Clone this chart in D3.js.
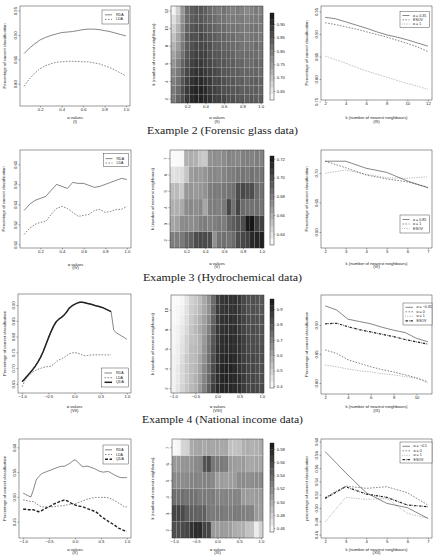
<!DOCTYPE html>
<html><head><meta charset="utf-8">
<script src="https://cdn.jsdelivr.net/npm/d3@7"></script>
<style>body{margin:0;background:#fff}svg{display:block}</style>
</head><body><svg id="c" width="436" height="556"></svg>
<script>
// ---------------- DATA ----------------
const captions = ["Example 2 (Forensic glass data)", "Example 3 (Hydrochemical data)", "Example 4 (National income data)"];
const alphaA = [0.05,0.10,0.15,0.20,0.25,0.30,0.35,0.40,0.45,0.50,0.55,0.60,0.65,0.70,0.75,0.80,0.85,0.90,0.95,1.00];
const alphaB = [-1.00,-0.95,-0.90,-0.85,-0.80,-0.75,-0.70,-0.65,-0.60,-0.55,-0.50,-0.45,-0.40,-0.35,-0.30,-0.25,-0.20,-0.15,-0.10,-0.05,0.00,0.05,0.10,0.15,0.20,0.25,0.30,0.35,0.40,0.45,0.50,0.55,0.60,0.65,0.70,0.75,0.80,0.85,0.90,0.95,1.00];
const alphaC = [-1.0,-0.9,-0.8,-0.7,-0.6,-0.5,-0.4,-0.3,-0.2,-0.1,0.0,0.1,0.2,0.3,0.4,0.5,0.6,0.7,0.8,0.9,1.0];
const kGlass = [2,3,4,5,6,7,8,9,10,11,12];
const kHydro = [2,3,4,5,6,7];
const kIncome = [2,3,4,5,6,7,8,9,10,11];
const kIncome2 = [2,3,4,5,6,7];

// Panel I
const glassRDA = [0.862,0.873,0.882,0.890,0.895,0.899,0.902,0.905,0.906,0.907,0.909,0.911,0.912,0.912,0.911,0.909,0.907,0.904,0.901,0.898];
const glassLDA = [0.795,0.810,0.822,0.831,0.837,0.841,0.844,0.845,0.846,0.846,0.846,0.845,0.845,0.843,0.841,0.837,0.833,0.828,0.822,0.816];
// Panel II (rows k=2..12, cols alphaA)
const glassHeat = [
 [0.80,0.83,0.86,0.89,0.91,0.92,0.92,0.91,0.90,0.88,0.88,0.87,0.86,0.86,0.85,0.85,0.84,0.85,0.84,0.84],
 [0.80,0.82,0.86,0.89,0.91,0.92,0.92,0.91,0.89,0.88,0.87,0.86,0.86,0.85,0.85,0.84,0.84,0.84,0.84,0.83],
 [0.79,0.81,0.85,0.88,0.90,0.91,0.91,0.90,0.89,0.87,0.87,0.86,0.85,0.85,0.84,0.84,0.83,0.84,0.84,0.83],
 [0.78,0.80,0.84,0.87,0.89,0.90,0.90,0.89,0.88,0.87,0.86,0.85,0.85,0.84,0.84,0.83,0.83,0.83,0.83,0.82],
 [0.76,0.79,0.83,0.86,0.88,0.89,0.89,0.88,0.87,0.86,0.85,0.85,0.84,0.84,0.83,0.83,0.82,0.82,0.83,0.82],
 [0.74,0.77,0.81,0.85,0.87,0.88,0.88,0.88,0.86,0.85,0.85,0.84,0.84,0.83,0.82,0.82,0.82,0.82,0.82,0.81],
 [0.72,0.75,0.80,0.84,0.86,0.87,0.87,0.87,0.86,0.84,0.84,0.83,0.83,0.82,0.82,0.81,0.81,0.81,0.82,0.81],
 [0.70,0.74,0.79,0.84,0.86,0.86,0.87,0.86,0.85,0.84,0.83,0.83,0.82,0.82,0.81,0.81,0.80,0.81,0.81,0.80],
 [0.68,0.72,0.78,0.83,0.85,0.86,0.86,0.85,0.84,0.83,0.82,0.82,0.81,0.81,0.81,0.80,0.80,0.81,0.81,0.80],
 [0.66,0.70,0.77,0.82,0.84,0.85,0.85,0.84,0.83,0.82,0.81,0.81,0.80,0.80,0.80,0.80,0.79,0.80,0.80,0.80],
 [0.63,0.68,0.76,0.82,0.84,0.85,0.85,0.84,0.82,0.81,0.80,0.81,0.80,0.79,0.80,0.79,0.78,0.79,0.80,0.79]];
// Panel III
const glassA035 = [0.937,0.934,0.927,0.920,0.913,0.905,0.898,0.893,0.887,0.880,0.873];
const glassESOV = [0.925,0.921,0.916,0.911,0.905,0.899,0.893,0.886,0.879,0.871,0.861];
const glassA1 = [0.851,0.843,0.835,0.826,0.818,0.811,0.804,0.797,0.790,0.784,0.777];

// Panel IV
const hydroRDA = [0.627,0.630,0.632,0.633,0.634,0.637,0.640,0.639,0.638,0.641,0.6405,0.6405,0.6395,0.6385,0.639,0.640,0.641,0.642,0.643,0.6425];
const hydroLDA = [0.615,0.618,0.620,0.621,0.6215,0.625,0.628,0.629,0.628,0.626,0.624,0.6245,0.625,0.627,0.6275,0.626,0.6265,0.6275,0.6275,0.629];
// Panel V (rows k=2..7, cols alphaA)
const hydroHeat = [
 [0.680,0.680,0.682,0.690,0.692,0.700,0.702,0.701,0.700,0.672,0.685,0.686,0.684,0.688,0.700,0.702,0.705,0.715,0.716,0.718],
 [0.664,0.666,0.675,0.676,0.674,0.675,0.680,0.681,0.679,0.680,0.682,0.681,0.690,0.694,0.698,0.700,0.720,0.722,0.706,0.705],
 [0.660,0.660,0.662,0.675,0.676,0.674,0.676,0.664,0.680,0.681,0.679,0.682,0.702,0.686,0.703,0.688,0.686,0.685,0.686,0.684],
 [0.655,0.656,0.650,0.670,0.671,0.669,0.670,0.672,0.680,0.682,0.681,0.683,0.684,0.686,0.700,0.702,0.699,0.700,0.688,0.686],
 [0.640,0.641,0.642,0.652,0.668,0.670,0.669,0.671,0.676,0.677,0.675,0.678,0.680,0.681,0.683,0.684,0.682,0.685,0.683,0.684],
 [0.630,0.630,0.631,0.660,0.661,0.660,0.652,0.650,0.672,0.674,0.673,0.675,0.678,0.677,0.676,0.679,0.680,0.678,0.680,0.679]];
// Panel VI
const hydroA085 = [0.720,0.720,0.708,0.701,0.6865,0.675];
const hydroA1 = [0.720,0.709,0.6966,0.690,0.685,0.6758];
const hydroESOV = [0.6995,0.705,0.698,0.692,0.691,0.6937];

// Panel VII (alphaB)
const incRDA = [0.657,0.666,0.676,0.685,0.695,0.706,0.719,0.734,0.752,0.773,0.795,0.815,0.833,0.847,0.855,0.861,0.868,0.878,0.890,0.897,0.902,0.906,0.909,0.909,0.907,0.905,0.903,0.901,0.898,0.896,0.894,0.891,0.887,0.883,0.879,0.820,0.812,0.807,0.802,0.797,0.791];
const incLDA = [0.641,0.660,0.672,0.680,0.687,0.692,0.696,0.699,0.702,0.704,0.705,0.706,0.712,0.720,0.726,0.729,0.734,0.740,0.745,0.748,0.749,0.748,0.745,0.741,0.739,0.740,0.741,0.742,0.742,0.742,0.742,0.742,0.742,0.742,0.742];
const incQDA = [0.657,0.666,0.676,0.685,0.695,0.706,0.719,0.734,0.752,0.773,0.795,0.815,0.833,0.847,0.855,0.861,0.868,0.878,0.890,0.897,0.902,0.906,0.909,0.909,0.907,0.905,0.903,0.901,0.898,0.896,0.894,0.891,0.887,0.883,0.879];
// Panel VIII (rows k=2..11, cols alphaC)
const incHeat = [
 [0.42,0.45,0.49,0.53,0.56,0.58,0.63,0.70,0.78,0.86,0.91,0.92,0.92,0.92,0.91,0.90,0.87,0.85,0.84,0.84,0.83],
 [0.42,0.44,0.48,0.52,0.55,0.58,0.62,0.69,0.76,0.84,0.90,0.92,0.93,0.92,0.91,0.90,0.87,0.85,0.84,0.83,0.82],
 [0.42,0.44,0.48,0.52,0.55,0.57,0.61,0.68,0.75,0.83,0.90,0.92,0.93,0.93,0.91,0.89,0.87,0.85,0.84,0.83,0.82],
 [0.42,0.43,0.47,0.52,0.55,0.56,0.60,0.66,0.74,0.82,0.89,0.91,0.92,0.92,0.91,0.89,0.86,0.85,0.84,0.83,0.82],
 [0.41,0.43,0.46,0.50,0.55,0.56,0.58,0.65,0.73,0.81,0.89,0.90,0.91,0.91,0.90,0.89,0.86,0.84,0.83,0.83,0.82],
 [0.41,0.42,0.45,0.50,0.54,0.55,0.58,0.64,0.72,0.80,0.88,0.90,0.91,0.91,0.90,0.89,0.86,0.84,0.83,0.82,0.81],
 [0.41,0.42,0.44,0.48,0.53,0.56,0.59,0.63,0.70,0.79,0.88,0.89,0.90,0.90,0.90,0.88,0.85,0.83,0.83,0.82,0.81],
 [0.40,0.41,0.43,0.47,0.52,0.55,0.58,0.62,0.68,0.77,0.87,0.89,0.90,0.90,0.89,0.88,0.85,0.83,0.82,0.82,0.81],
 [0.40,0.41,0.42,0.46,0.51,0.53,0.56,0.60,0.66,0.76,0.87,0.88,0.89,0.89,0.89,0.88,0.84,0.82,0.82,0.81,0.80],
 [0.40,0.40,0.41,0.45,0.50,0.52,0.55,0.60,0.66,0.75,0.86,0.88,0.89,0.89,0.89,0.88,0.84,0.82,0.82,0.81,0.80]];
// Panel IX
const incAm035 = [0.933,0.926,0.910,0.906,0.902,0.896,0.891,0.887,0.877,0.871];
const incA0 = [0.857,0.851,0.840,0.834,0.828,0.823,0.819,0.814,0.809,0.802];
const incA1 = [0.831,0.828,0.824,0.821,0.819,0.816,0.814,0.811,0.808,0.800];
const incESOV = [0.902,0.903,0.897,0.892,0.888,0.884,0.880,0.875,0.871,0.867];

// Panel X (alphaB)
const natRDA = [0.5075,0.505,0.502,0.500,0.515,0.534,0.541,0.546,0.549,0.551,0.553,0.555,0.557,0.559,0.561,0.562,0.562,0.565,0.568,0.572,0.575,0.571,0.565,0.561,0.562,0.562,0.560,0.558,0.556,0.553,0.551,0.550,0.551,0.551,0.548,0.545,0.5425,0.540,0.539,0.539,0.539];
const natLDA = [0.494,0.493,0.492,0.4905,0.4905,0.487,0.483,0.480,0.480,0.480,0.480,0.480,0.480,0.481,0.482,0.482,0.483,0.484,0.485,0.486,0.486,0.488,0.490,0.492,0.494,0.496,0.497,0.498,0.499,0.499,0.499,0.499,0.499,0.498,0.496,0.493,0.4905,0.487,0.484,0.480,0.480];
const natQDA = [0.475,0.475,0.474,0.474,0.474,0.472,0.470,0.472,0.475,0.478,0.480,0.483,0.486,0.488,0.4905,0.492,0.494,0.492,0.489,0.486,0.484,0.482,0.481,0.480,0.478,0.476,0.474,0.472,0.470,0.466,0.461,0.457,0.454,0.450,0.447,0.444,0.440,0.4366,0.434,0.432,0.430];
// Panel XI (rows k=2..7, cols alphaC)
const natHeat = [
 [0.555,0.556,0.558,0.560,0.572,0.576,0.575,0.562,0.560,0.512,0.510,0.512,0.511,0.510,0.502,0.500,0.501,0.490,0.488,0.465,0.480],
 [0.560,0.562,0.558,0.548,0.546,0.545,0.544,0.546,0.532,0.530,0.531,0.532,0.530,0.528,0.531,0.530,0.528,0.527,0.526,0.512,0.510],
 [0.536,0.535,0.537,0.534,0.536,0.535,0.530,0.531,0.529,0.530,0.524,0.525,0.526,0.524,0.525,0.524,0.512,0.511,0.510,0.512,0.511],
 [0.521,0.522,0.520,0.521,0.525,0.526,0.524,0.526,0.525,0.522,0.510,0.511,0.509,0.510,0.511,0.520,0.521,0.519,0.520,0.522,0.521],
 [0.512,0.513,0.515,0.516,0.518,0.522,0.523,0.552,0.556,0.532,0.530,0.531,0.529,0.512,0.511,0.510,0.512,0.505,0.504,0.506,0.505],
 [0.458,0.460,0.478,0.480,0.502,0.505,0.506,0.504,0.507,0.505,0.506,0.504,0.505,0.490,0.489,0.491,0.500,0.501,0.499,0.500,0.502]];
// Panel XII
const natAm05 = [0.585,0.553,0.523,0.507,0.5005,0.4845];
const natA0 = [0.516,0.533,0.5296,0.532,0.523,0.5045];
const natA1 = [0.479,0.516,0.513,0.5145,0.492,0.4845];
const natESOV = [0.5145,0.532,0.521,0.516,0.5045,0.502];

// tick labels
const ticksA = [0.2,0.4,0.6,0.8,1.0];
const ticksB = [-1.0,-0.5,0.0,0.5,1.0];

// ---------------- DRAWING ----------------
const svg = d3.select("#c");
const FONT = "'Liberation Sans', Arial, sans-serif";
const FS = 4.2, INK = "#222";
const SOLID = null, DASH = "1.6,1.4", DOT = "0.5,1.2", DOTDASH = "2.4,1,0.6,1";

function styleAxis(a){
  a.attr("font-size",FS).attr("font-family",FONT);
  a.select(".domain").remove();
  a.selectAll("line").attr("stroke",INK).attr("stroke-width",0.4);
  a.selectAll("text").attr("fill",INK);
}
function xAxis(g,x,y1,ticks,fmt){
  g.append("g").attr("transform",`translate(0,${y1})`)
   .call(d3.axisBottom(x).tickValues(ticks).tickSize(1.5).tickPadding(0.8).tickFormat(fmt))
   .call(styleAxis);
}
function yAxis(g,y,x0,ticks,fmt){
  g.append("g").attr("transform",`translate(${x0},0)`)
   .call(d3.axisLeft(y).tickValues(ticks).tickSize(1.5).tickFormat(fmt))
   .call(styleAxis)
   .call(a=>a.selectAll("text").attr("x",null).attr("dy",null).attr("text-anchor","middle")
        .attr("transform","translate(-2.6,0) rotate(-90)"));
}
function txt(g,x,y,s,o={}){
  const t=g.append("text").attr("x",x).attr("y",y).text(s).attr("font-family",o.font||FONT)
   .attr("font-size",o.fs||FS).attr("fill",INK).attr("text-anchor",o.anchor||"middle")
   .attr("dominant-baseline","central");
  if(o.rot) t.attr("transform",`rotate(-90,${x},${y})`);
  return t;
}
function labels(g,box,o){
  const [x0,y0,x1,y1]=box;
  txt(g,(x0+x1)/2,o.xly,o.xlab);
  txt(g,(x0+x1)/2,o.xly+3.6,o.sub);
  txt(g,o.ylx,(y0+y1)/2,o.ylab,{rot:true});
}
function linePanel(o){
  const [x0,y0,x1,y1]=o.box;
  const x=d3.scaleLinear().domain(o.xd).range([x0,x1]);
  const y=d3.scaleLinear().domain(o.yd).range([y1,y0]);
  const g=svg.append("g");
  o.series.forEach(s=>{
    const pts=s.y.map((v,i)=>[s.x[i],v]);
    g.append("path").attr("d",d3.line().x(d=>x(d[0])).y(d=>y(d[1]))(pts))
     .attr("fill","none").attr("stroke",INK).attr("stroke-width",s.w||0.55)
     .attr("stroke-dasharray",s.dash).attr("stroke-linejoin","round");
  });
  g.append("rect").attr("x",x0).attr("y",y0).attr("width",x1-x0).attr("height",y1-y0)
   .attr("fill","none").attr("stroke",INK).attr("stroke-width",0.45);
  xAxis(g,x,y1,o.xt,o.xf);
  yAxis(g,y,x0,o.yt,o.yf);
  labels(g,o.box,o);
  const L=o.legend;
  g.append("rect").attr("x",L.box[0]).attr("y",L.box[1]).attr("width",L.box[2]-L.box[0]).attr("height",L.box[3]-L.box[1])
   .attr("fill","#fff").attr("stroke",INK).attr("stroke-width",0.4);
  o.series.forEach((s,i)=>{
    const yy=L.ys[i];
    g.append("line").attr("x1",L.sx[0]).attr("x2",L.sx[1]).attr("y1",yy).attr("y2",yy)
     .attr("stroke",INK).attr("stroke-width",s.w||0.55).attr("stroke-dasharray",s.dash);
    txt(g,L.tx,yy,s.name,{anchor:"start",fs:3.6});
  });
}
function heatPanel(o){
  const [x0,y0,x1,y1]=o.box;
  const h=(o.cols[1]-o.cols[0])/2;
  const x=d3.scaleLinear().domain([o.cols[0]-h,o.cols[o.cols.length-1]+h]).range([x0,x1]);
  const y=d3.scaleLinear().domain([o.rows[0]-0.5,o.rows[o.rows.length-1]+0.5]).range([y1,y0]);
  const col=d3.scaleLinear().domain(o.cr).range(["#ffffff","#141414"]).clamp(true);
  const g=svg.append("g");
  o.z.forEach((row,ri)=>row.forEach((v,ci)=>{
    const a=o.cols[ci],k=o.rows[ri];
    g.append("rect").attr("x",x(a-h)).attr("y",y(k+0.5)).attr("width",x(a+h)-x(a-h)).attr("height",y(k-0.5)-y(k+0.5))
     .attr("fill",col(v)).attr("stroke","#fff").attr("stroke-opacity",0.18).attr("stroke-width",0.35);
  }));
  g.append("rect").attr("x",x0).attr("y",y0).attr("width",x1-x0).attr("height",y1-y0)
   .attr("fill","none").attr("stroke",INK).attr("stroke-width",0.45);
  xAxis(g,x,y1,o.xt,o.xf);
  yAxis(g,y,x0,o.yt,d3.format("d"));
  labels(g,o.box,o);
  // colour bar
  const [c0,cy0,c1,cy1]=o.cbox;
  const cy=d3.scaleLinear().domain(o.cr).range([cy1,cy0]);
  const n=14, step=(o.cr[1]-o.cr[0])/n;
  d3.range(n).forEach(i=>{
    const lo=o.cr[0]+i*step, hi=lo+step;
    g.append("rect").attr("x",c0).attr("y",cy(hi)).attr("width",c1-c0).attr("height",cy(lo)-cy(hi)+0.2)
     .attr("fill",col(lo+step/2));
  });
  g.append("rect").attr("x",c0).attr("y",cy0).attr("width",c1-c0).attr("height",cy1-cy0)
   .attr("fill","none").attr("stroke",INK).attr("stroke-width",0.45);
  g.append("g").attr("transform",`translate(${c1},0)`)
   .call(d3.axisRight(cy).tickValues(o.ct).tickSize(1.2).tickPadding(1.5).tickFormat(o.cf))
   .call(styleAxis);
}

const f1=d3.format(".1f"), f2=d3.format(".2f");

// Row 1
linePanel({box:[20,6,130,106],xd:[0.012,1.038],yd:[0.7545,0.9594],xt:ticksA,xf:f1,yt:[0.80,0.85,0.90,0.95],yf:f2,
  xlab:"α values",sub:"(I)",xly:117.5,ylx:4.5,ylab:"Percentage of correct classification",
  series:[{name:"RDA",x:alphaA,y:glassRDA,dash:SOLID},{name:"LDA",x:alphaA,y:glassLDA,dash:DASH}],
  legend:{box:[102,10,128.5,24],ys:[14.8,19.4],sx:[105,112],tx:116}});
heatPanel({box:[171,6,263,103],cols:alphaA,rows:kGlass,z:glassHeat,cr:[0.616,0.941],xt:ticksA,xf:f1,yt:[2,4,6,8,10,12],
  xlab:"α values",sub:"(II)",xly:117.5,ylx:153.5,ylab:"k (number of nearest neighbours)",
  cbox:[270,13,274,100],ct:[0.65,0.70,0.75,0.80,0.85,0.90],cf:f2});
linePanel({box:[321,6,432,100],xd:[1.6,12.4],yd:[0.7533,0.9622],xt:[2,4,6,8,10,12],xf:d3.format("d"),yt:[0.75,0.80,0.85,0.90,0.95],yf:f2,
  xlab:"k (number of nearest neighbours)",sub:"(III)",xly:117.5,ylx:306.7,ylab:"Percentage of correct classification",
  series:[{name:"α = 0.35",x:kGlass,y:glassA035,dash:SOLID},{name:"ESOV",x:kGlass,y:glassESOV,dash:DASH},{name:"α = 1",x:kGlass,y:glassA1,dash:DOT}],
  legend:{box:[400,11.7,429.5,27.7],ys:[15.5,19.8,24],sx:[402.5,409.5],tx:413}});

// Row 2
linePanel({box:[20,150,131,248],xd:[0.012,1.038],yd:[0.6082,0.6572],xt:ticksA,xf:f1,yt:[0.61,0.62,0.63,0.64,0.65],yf:f2,
  xlab:"α values",sub:"(IV)",xly:264,ylx:3.8,ylab:"Percentage of correct classification",
  series:[{name:"RDA",x:alphaA,y:hydroRDA,dash:SOLID},{name:"LDA",x:alphaA,y:hydroLDA,dash:DASH}],
  legend:{box:[103.3,153.3,128.5,166.7],ys:[158.6,163],sx:[105.5,112.5],tx:116.5}});
heatPanel({box:[170,150,264,248],cols:alphaA,rows:kHydro,z:hydroHeat,cr:[0.628,0.723],xt:ticksA,xf:f1,yt:kHydro,
  xlab:"α values",sub:"(V)",xly:263,ylx:152.7,ylab:"k (number of nearest neighbours)",
  cbox:[270,156,274,245],ct:[0.64,0.66,0.68,0.70,0.72],cf:f2});
linePanel({box:[321,150,432,248],xd:[1.8,7.2],yd:[0.5729,0.739],xt:kHydro,xf:d3.format("d"),yt:[0.60,0.65,0.70],yf:f2,
  xlab:"k (number of nearest neighbours)",sub:"(VI)",xly:263,ylx:306.7,ylab:"Percentage of correct classification",
  series:[{name:"α = 0.85",x:kHydro,y:hydroA085,dash:SOLID},{name:"α = 1",x:kHydro,y:hydroA1,dash:DASH},{name:"ESOV",x:kHydro,y:hydroESOV,dash:DOT}],
  legend:{box:[400,215,429.5,233],ys:[219.5,224,228.5],sx:[402.5,409.5],tx:413}});

// Row 3
linePanel({box:[18,294,131,393],xd:[-1.08,1.08],yd:[0.621,0.935],xt:ticksB,xf:f1,yt:[0.65,0.70,0.75,0.80,0.85,0.90],yf:f2,
  xlab:"α values",sub:"(VII)",xly:406.7,ylx:4.5,ylab:"Percentage of correct classification",
  series:[{name:"RDA",x:alphaB,y:incRDA,dash:SOLID},{name:"LDA",x:alphaB,y:incLDA,dash:DASH},{name:"QDA",x:alphaB,y:incQDA,dash:SOLID,w:1.5}],
  legend:{box:[101.7,368,128.5,387],ys:[373,377.7,382.3],sx:[104.5,112],tx:116}});
heatPanel({box:[171,295,264,393],cols:alphaC,rows:kIncome,z:incHeat,cr:[0.387,0.965],xt:ticksB,xf:f1,yt:[2,4,6,8,10],
  xlab:"α values",sub:"(VIII)",xly:406.7,ylx:152.7,ylab:"k (number of nearest neighbours)",
  cbox:[270,299,274,388],ct:[0.4,0.5,0.6,0.7,0.8,0.9],cf:f1});
linePanel({box:[321,295,432,394],xd:[1.64,11.36],yd:[0.781,0.9517],xt:[2,4,6,8,10],xf:d3.format("d"),yt:[0.80,0.85,0.90],yf:f2,
  xlab:"k (number of nearest neighbours)",sub:"(IX)",xly:406.7,ylx:306.7,ylab:"Percentage of correct classification",
  series:[{name:"α = −0.35",x:kIncome,y:incAm035,dash:SOLID},{name:"α = 0",x:kIncome,y:incA0,dash:DASH},{name:"α = 1",x:kIncome,y:incA1,dash:DOT},{name:"ESOV",x:kIncome,y:incESOV,dash:DOTDASH,w:1.2}],
  legend:{box:[403,303,432,325],ys:[307.3,311.8,316.3,320.8],sx:[405.5,413],tx:416.5}});

// Row 4
linePanel({box:[19,439,131,538],xd:[-1.08,1.08],yd:[0.417,0.617],xt:ticksB,xf:f1,yt:[0.45,0.50,0.55,0.60],yf:f2,
  xlab:"α values",sub:"(X)",xly:549.3,ylx:4.5,ylab:"Percentage of correct classification",
  series:[{name:"RDA",x:alphaB,y:natRDA,dash:SOLID},{name:"LDA",x:alphaB,y:natLDA,dash:DASH},{name:"QDA",x:alphaB,y:natQDA,dash:"3,1.6",w:1.4}],
  legend:{box:[103,445,128.5,464],ys:[449.8,454.5,459.2],sx:[105,112],tx:116}});
heatPanel({box:[172,439,263,538],cols:alphaC,rows:kIncome2,z:natHeat,cr:[0.454,0.589],xt:ticksB,xf:f1,yt:kIncome2,
  xlab:"α values",sub:"(XI)",xly:549.3,ylx:152.7,ylab:"k (number of nearest neighbours)",
  cbox:[270,443,274,532],ct:[0.46,0.48,0.50,0.52,0.54,0.56,0.58],cf:f2});
linePanel({box:[321,439,432,538],xd:[1.8,7.2],yd:[0.4549,0.6038],xt:kIncome2,xf:d3.format("d"),yt:[0.46,0.48,0.50,0.52,0.54,0.56,0.58,0.60],yf:f2,
  xlab:"k (number of nearest neighbours)",sub:"(XII)",xly:549.3,ylx:306.7,ylab:"percentage of correct classification",
  series:[{name:"α = −0.5",x:kIncome2,y:natAm05,dash:SOLID},{name:"α = 0",x:kIncome2,y:natA0,dash:DASH},{name:"α = 1",x:kIncome2,y:natA1,dash:DOT},{name:"ESOV",x:kIncome2,y:natESOV,dash:DOTDASH,w:1.2}],
  legend:{box:[400,442,432,463],ys:[446.3,450.8,455.3,459.6],sx:[402.5,410],tx:413.5}});

// captions
const capY=[129.5,276.5,418.5], capW=[151,159,161];
captions.forEach((c,i)=>{
  txt(svg,222.5,capY[i],c,{font:"'Liberation Serif','DejaVu Serif',serif",fs:11})
    .attr("textLength",capW[i]).attr("lengthAdjust","spacingAndGlyphs");
});
</script></body></html>
